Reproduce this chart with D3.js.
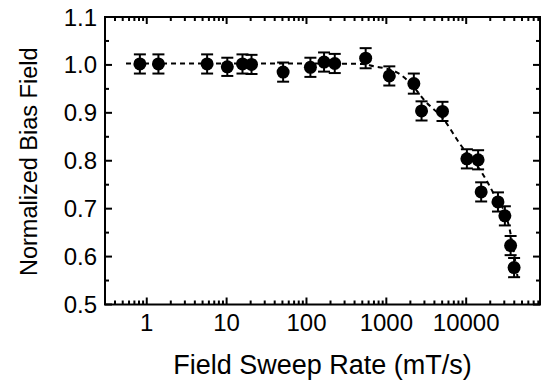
<!DOCTYPE html>
<html lang="en">
<head>
<meta charset="UTF-8">
<title>Normalized Bias Field vs Field Sweep Rate</title>
<script src="https://d3js.org/d3.v7.min.js"></script>
<style>
    body { margin: 0; background: #fff; }
    svg { display: block; }
    text { font-family: "Liberation Sans", Arial, Helvetica, sans-serif; fill: #000; }
</style>
</head>
<body>
<svg id="chart"></svg>
<script>
    // measured points (sweep rate in mT/s, normalized bias field, error)
    const sweepRate = [0.82, 1.4, 5.7, 10.2, 15.8, 20.5, 51, 112, 166, 226, 551, 1090, 2210, 2760, 5050, 10200, 14100, 15400, 25000, 30500, 36000, 39800];
    const biasField = [1.002, 1.002, 1.002, 0.996, 1.002, 1.001, 0.985, 0.995, 1.006, 1.003, 1.014, 0.977, 0.961, 0.904, 0.903, 0.804, 0.802, 0.735, 0.714, 0.685, 0.623, 0.577];
    const biasErr   = [0.02, 0.02, 0.02, 0.019, 0.02, 0.02, 0.02, 0.02, 0.02, 0.02, 0.021, 0.02, 0.021, 0.02, 0.02, 0.02, 0.02, 0.02, 0.02, 0.02, 0.02, 0.02];

    // dashed guide curve
    const fitX = [0.55, 100, 500, 700, 900, 1500, 2000, 3000, 5300, 8200, 16000, 21500, 34800, 44000];
    const fitY = [1.003, 1.003, 1.002, 0.997, 0.994, 0.980, 0.962, 0.926, 0.885, 0.837, 0.773, 0.735, 0.659, 0.557];

    const xTickVals = [1, 10, 100, 1000, 10000];
    const yTickVals = [0.5, 0.6, 0.7, 0.8, 0.9, 1.0, 1.1];

    const W = 549, H = 383;
    const m = { left: 105, right: 9, top: 17, bottom: 78.5 };

    const svg = d3.select("#chart").attr("width", W).attr("height", H);

    const x = d3.scaleLog().domain([0.3, 84000]).range([m.left, W - m.right]);
    const y = d3.scaleLinear().domain([0.5, 1.1]).range([H - m.bottom, m.top]);

    const x0 = x.range()[0], x1 = x.range()[1];
    const y0 = y.range()[0], y1 = y.range()[1];

    // minor log ticks
    const xMinor = [];
    for (let e = -1; e <= 4; e++) {
        for (let k = 2; k <= 9; k++) {
            const v = k * Math.pow(10, e);
            if (v > 0.3 && v < 84000) xMinor.push(v);
        }
    }
    const yMinor = d3.range(0.55, 1.1, 0.1);

    const ticks = svg.append("g").attr("stroke", "#000").attr("stroke-width", 2);
    // bottom and top
    xTickVals.forEach(v => {
        ticks.append("line").attr("x1", x(v)).attr("x2", x(v)).attr("y1", y0).attr("y2", y0 - 7);
        ticks.append("line").attr("x1", x(v)).attr("x2", x(v)).attr("y1", y1).attr("y2", y1 + 7);
    });
    xMinor.forEach(v => {
        ticks.append("line").attr("x1", x(v)).attr("x2", x(v)).attr("y1", y0).attr("y2", y0 - 4);
        ticks.append("line").attr("x1", x(v)).attr("x2", x(v)).attr("y1", y1).attr("y2", y1 + 4);
    });
    // left and right
    yTickVals.forEach(v => {
        ticks.append("line").attr("x1", x0).attr("x2", x0 + 7).attr("y1", y(v)).attr("y2", y(v));
        ticks.append("line").attr("x1", x1).attr("x2", x1 - 7).attr("y1", y(v)).attr("y2", y(v));
    });
    yMinor.forEach(v => {
        ticks.append("line").attr("x1", x0).attr("x2", x0 + 4).attr("y1", y(v)).attr("y2", y(v));
        ticks.append("line").attr("x1", x1).attr("x2", x1 - 4).attr("y1", y(v)).attr("y2", y(v));
    });

    // frame
    svg.append("rect")
        .attr("x", x0).attr("y", y1)
        .attr("width", x1 - x0).attr("height", y0 - y1)
        .attr("fill", "none").attr("stroke", "#000").attr("stroke-width", 2);

    // tick labels
    svg.append("g").selectAll("text").data(xTickVals).join("text")
        .attr("x", d => x(d)).attr("y", y0 + 26)
        .attr("text-anchor", "middle")
        .attr("font-size", 24)
        .text(d => d);

    svg.append("g").selectAll("text").data(yTickVals).join("text")
        .attr("x", x0 - 8).attr("y", d => y(d) + 8.5)
        .attr("text-anchor", "end")
        .attr("font-size", 24)
        .text(d => d.toFixed(1));

    // axis titles
    svg.append("text")
        .attr("x", (x0 + x1) / 2).attr("y", 374)
        .attr("text-anchor", "middle")
        .attr("font-size", 27)
        .text("Field Sweep Rate (mT/s)");

    svg.append("text")
        .attr("transform", `translate(37,${(y0 + y1) / 2 + 1}) rotate(-90)`)
        .attr("text-anchor", "middle")
        .attr("font-size", 23.5)
        .text("Normalized Bias Field");

    // dashed guide
    const fitPts = fitX.map((v, i) => [v, fitY[i]]);
    svg.append("path")
        .datum(fitPts)
        .attr("fill", "none")
        .attr("stroke", "#000")
        .attr("stroke-width", 2)
        .attr("stroke-dasharray", "5,4")
        .attr("d", d3.line().x(d => x(d[0])).y(d => y(d[1])).curve(d3.curveMonotoneX));

    // data with error bars
    const pts = sweepRate.map((v, i) => ({ x: v, y: biasField[i], e: biasErr[i] }));
    const g = svg.append("g").selectAll("g").data(pts).join("g")
        .attr("transform", d => `translate(${x(d.x)},0)`);

    g.append("line")
        .attr("x1", 0).attr("x2", 0)
        .attr("y1", d => y(d.y - d.e)).attr("y2", d => y(d.y + d.e))
        .attr("stroke", "#000").attr("stroke-width", 2);
    g.append("line")
        .attr("x1", -6).attr("x2", 6)
        .attr("y1", d => y(d.y + d.e)).attr("y2", d => y(d.y + d.e))
        .attr("stroke", "#000").attr("stroke-width", 2);
    g.append("line")
        .attr("x1", -6).attr("x2", 6)
        .attr("y1", d => y(d.y - d.e)).attr("y2", d => y(d.y - d.e))
        .attr("stroke", "#000").attr("stroke-width", 2);
    g.append("circle")
        .attr("cy", d => y(d.y))
        .attr("r", 6.5)
        .attr("fill", "#000");
</script>
</body>
</html>
